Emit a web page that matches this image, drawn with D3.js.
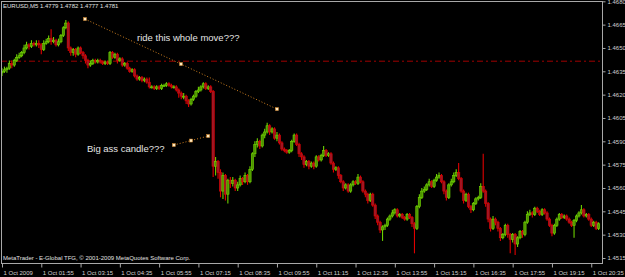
<!DOCTYPE html>
<html><head><meta charset="utf-8">
<script src="https://cdn.jsdelivr.net/npm/d3@7"></script>
<style>
html,body{margin:0;padding:0;background:#000;}
svg{display:block;}
text{font-family:"Liberation Sans",Arial,sans-serif;}
</style></head><body>
<svg id="chart" width="625" height="277"></svg>
<script>
// ---- DATA (EURUSD M5, 1 Oct 2009, bars every 5 minutes from 00:35) ----
const title = "EURUSD,M5  1.4779 1.4782 1.4777 1.4781";
const copyright = "MetaTrader - E-Global TFG, \u00A9 2001-2009 MetaQuotes Software Corp.";
const opens = [
1.4634,1.4635,1.4636,1.4637,1.4640,1.4639,1.4642,1.4644,1.4645,1.4647,
1.4650,1.4652,1.4651,1.4653,1.4652,1.4653,1.4652,1.4649,1.4653,1.4654,
1.4656,1.4654,1.4655,1.4652,1.4654,1.4658,1.4663,1.4666,1.4650,1.4647,
1.4649,1.4646,1.4650,1.4647,1.4645,1.4642,1.4639,1.4640,1.4642,1.4641,
1.4642,1.4641,1.4640,1.4641,1.4640,1.4647,1.4644,1.4646,1.4642,1.4643,
1.4639,1.4640,1.4637,1.4635,1.4636,1.4632,1.4630,1.4631,1.4629,1.4630,
1.4628,1.4625,1.4625,1.4624,1.4625,1.4624,1.4626,1.4626,1.4627,1.4626,
1.4625,1.4625,1.4623,1.4621,1.4619,1.4619,1.4616,1.4614,1.4617,1.4619,
1.4622,1.4623,1.4625,1.4627,1.4624,1.4625,1.4622,1.4574,1.4577,1.4570,
1.4558,1.4568,1.4556,1.4565,1.4563,1.4565,1.4560,1.4562,1.4566,1.4564,
1.4568,1.4564,1.4572,1.4582,1.4588,1.4590,1.4587,1.4594,1.4596,1.4600,
1.4596,1.4598,1.4592,1.4594,1.4589,1.4585,1.4584,1.4583,1.4584,1.4590,
1.4594,1.4588,1.4582,1.4580,1.4575,1.4577,1.4574,1.4576,1.4574,1.4580,
1.4578,1.4581,1.4584,1.4581,1.4582,1.4576,1.4572,1.4573,1.4568,1.4564,
1.4560,1.4562,1.4558,1.4562,1.4564,1.4563,1.4567,1.4564,1.4558,1.4556,
1.4552,1.4556,1.4549,1.4542,1.4538,1.4533,1.4535,1.4536,1.4540,1.4542,
1.4544,1.4546,1.4542,1.4543,1.4541,1.4540,1.4543,1.4541,1.4537,1.4534,
1.4548,1.4554,1.4558,1.4559,1.4562,1.4564,1.4561,1.4565,1.4567,1.4568,
1.4564,1.4558,1.4554,1.4562,1.4564,1.4568,1.4570,1.4566,1.4558,1.4552,
1.4556,1.4548,1.4546,1.4550,1.4553,1.4554,1.4561,1.4558,1.4550,1.4540,
1.4534,1.4540,1.4538,1.4534,1.4528,1.4530,1.4536,1.4530,1.4527,1.4530,
1.4524,1.4528,1.4532,1.4530,1.4538,1.4543,1.4544,1.4543,1.4547,1.4545,
1.4543,1.4546,1.4544,1.4540,1.4536,1.4531,1.4536,1.4540,1.4543,1.4541,
1.4542,1.4540,1.4538,1.4536,1.4539,1.4542,1.4544,1.4546,1.4542,1.4543,
1.4540,1.4536,1.4538,1.4534];
const highs = [
1.4637,1.4638,1.4638,1.4642,1.4642,1.4643,1.4646,1.4647,1.4648,1.4652,
1.4654,1.4653,1.4655,1.4654,1.4655,1.4655,1.4653,1.4655,1.4656,1.4658,
1.4662,1.4657,1.4656,1.4656,1.4659,1.4664,1.4668,1.4667,1.4651,1.4650,
1.4650,1.4651,1.4651,1.4648,1.4646,1.4643,1.4642,1.4643,1.4643,1.4643,
1.4643,1.4642,1.4642,1.4642,1.4648,1.4648,1.4647,1.4647,1.4644,1.4644,
1.4641,1.4641,1.4638,1.4637,1.4637,1.4633,1.4632,1.4632,1.4631,1.4631,
1.4631,1.4626,1.4626,1.4626,1.4626,1.4627,1.4627,1.4628,1.4628,1.4627,
1.4626,1.4626,1.4624,1.4622,1.4621,1.4620,1.4617,1.4618,1.4620,1.4623,
1.4625,1.4626,1.4628,1.4628,1.4626,1.4626,1.4623,1.4580,1.4578,1.4572,
1.4570,1.4569,1.4566,1.4567,1.4567,1.4566,1.4564,1.4568,1.4567,1.4570,
1.4569,1.4574,1.4583,1.4590,1.4592,1.4591,1.4595,1.4598,1.4602,1.4601,
1.4599,1.4599,1.4596,1.4595,1.4590,1.4586,1.4585,1.4585,1.4591,1.4595,
1.4595,1.4589,1.4583,1.4581,1.4578,1.4578,1.4577,1.4577,1.4581,1.4581,
1.4582,1.4587,1.4585,1.4583,1.4583,1.4577,1.4574,1.4574,1.4569,1.4565,
1.4563,1.4563,1.4563,1.4565,1.4565,1.4569,1.4568,1.4565,1.4559,1.4557,
1.4557,1.4557,1.4550,1.4543,1.4539,1.4536,1.4537,1.4541,1.4543,1.4546,
1.4547,1.4547,1.4544,1.4544,1.4542,1.4544,1.4544,1.4542,1.4538,1.4549,
1.4556,1.4560,1.4561,1.4563,1.4566,1.4565,1.4566,1.4569,1.4570,1.4569,
1.4565,1.4559,1.4563,1.4566,1.4570,1.4572,1.4576,1.4567,1.4559,1.4557,
1.4557,1.4549,1.4551,1.4554,1.4555,1.4563,1.4582,1.4559,1.4551,1.4541,
1.4542,1.4541,1.4539,1.4535,1.4531,1.4537,1.4537,1.4531,1.4531,1.4531,
1.4529,1.4533,1.4533,1.4539,1.4545,1.4546,1.4545,1.4548,1.4548,1.4546,
1.4547,1.4547,1.4545,1.4541,1.4537,1.4537,1.4541,1.4544,1.4544,1.4543,
1.4543,1.4541,1.4539,1.4540,1.4543,1.4545,1.4549,1.4547,1.4544,1.4544,
1.4541,1.4539,1.4539,1.4538];
const lows = [
1.4632,1.4634,1.4634,1.4636,1.4637,1.4638,1.4641,1.4643,1.4644,1.4646,
1.4649,1.4649,1.4650,1.4651,1.4651,1.4650,1.4646,1.4648,1.4652,1.4653,
1.4652,1.4653,1.4651,1.4651,1.4653,1.4657,1.4662,1.4648,1.4645,1.4645,
1.4644,1.4645,1.4646,1.4643,1.4640,1.4637,1.4638,1.4639,1.4640,1.4640,
1.4640,1.4639,1.4639,1.4639,1.4639,1.4643,1.4643,1.4640,1.4641,1.4638,
1.4638,1.4636,1.4634,1.4634,1.4631,1.4629,1.4629,1.4628,1.4628,1.4627,
1.4624,1.4624,1.4623,1.4623,1.4623,1.4623,1.4625,1.4625,1.4625,1.4624,
1.4624,1.4622,1.4618,1.4617,1.4617,1.4614,1.4612,1.4613,1.4616,1.4618,
1.4621,1.4622,1.4624,1.4623,1.4623,1.4621,1.4567,1.4568,1.4566,1.4554,
1.4553,1.4552,1.4550,1.4560,1.4561,1.4558,1.4558,1.4561,1.4562,1.4563,
1.4562,1.4563,1.4571,1.4580,1.4586,1.4585,1.4586,1.4592,1.4595,1.4594,
1.4595,1.4591,1.4590,1.4588,1.4584,1.4583,1.4582,1.4582,1.4583,1.4589,
1.4587,1.4580,1.4578,1.4573,1.4574,1.4572,1.4573,1.4572,1.4573,1.4577,
1.4577,1.4580,1.4580,1.4580,1.4575,1.4570,1.4571,1.4566,1.4563,1.4558,
1.4559,1.4557,1.4557,1.4561,1.4562,1.4562,1.4563,1.4557,1.4554,1.4550,
1.4551,1.4548,1.4540,1.4536,1.4531,1.4526,1.4533,1.4535,1.4539,1.4541,
1.4543,1.4541,1.4541,1.4540,1.4539,1.4539,1.4540,1.4535,1.4518,1.4533,
1.4547,1.4553,1.4557,1.4558,1.4561,1.4560,1.4560,1.4564,1.4566,1.4563,
1.4556,1.4552,1.4553,1.4561,1.4563,1.4567,1.4565,1.4557,1.4550,1.4551,
1.4547,1.4544,1.4545,1.4549,1.4552,1.4553,1.4557,1.4548,1.4538,1.4532,
1.4533,1.4536,1.4532,1.4526,1.4527,1.4529,1.4528,1.4518,1.4525,1.4517,
1.4522,1.4527,1.4528,1.4529,1.4537,1.4542,1.4541,1.4542,1.4544,1.4542,
1.4542,1.4543,1.4539,1.4535,1.4529,1.4530,1.4535,1.4539,1.4540,1.4540,
1.4539,1.4537,1.4535,1.4528,1.4538,1.4541,1.4543,1.4541,1.4541,1.4539,
1.4535,1.4535,1.4533,1.4533];
const closes = [
1.4635,1.4636,1.4637,1.4640,1.4639,1.4642,1.4644,1.4645,1.4647,1.4650,
1.4652,1.4651,1.4653,1.4652,1.4653,1.4652,1.4649,1.4653,1.4654,1.4656,
1.4654,1.4655,1.4652,1.4654,1.4658,1.4663,1.4666,1.4650,1.4647,1.4649,
1.4646,1.4650,1.4647,1.4645,1.4642,1.4639,1.4640,1.4642,1.4641,1.4642,
1.4641,1.4640,1.4641,1.4640,1.4647,1.4644,1.4646,1.4642,1.4643,1.4639,
1.4640,1.4637,1.4635,1.4636,1.4632,1.4630,1.4631,1.4629,1.4630,1.4628,
1.4625,1.4625,1.4624,1.4625,1.4624,1.4626,1.4626,1.4627,1.4626,1.4625,
1.4625,1.4623,1.4621,1.4619,1.4619,1.4616,1.4614,1.4617,1.4619,1.4622,
1.4623,1.4625,1.4627,1.4624,1.4625,1.4622,1.4574,1.4577,1.4570,1.4558,
1.4568,1.4556,1.4565,1.4563,1.4565,1.4560,1.4562,1.4566,1.4564,1.4568,
1.4564,1.4572,1.4582,1.4588,1.4590,1.4587,1.4594,1.4596,1.4600,1.4596,
1.4598,1.4592,1.4594,1.4589,1.4585,1.4584,1.4583,1.4584,1.4590,1.4594,
1.4588,1.4582,1.4580,1.4575,1.4577,1.4574,1.4576,1.4574,1.4580,1.4578,
1.4581,1.4584,1.4581,1.4582,1.4576,1.4572,1.4573,1.4568,1.4564,1.4560,
1.4562,1.4558,1.4562,1.4564,1.4563,1.4567,1.4564,1.4558,1.4556,1.4552,
1.4556,1.4549,1.4542,1.4538,1.4533,1.4535,1.4536,1.4540,1.4542,1.4544,
1.4546,1.4542,1.4543,1.4541,1.4540,1.4543,1.4541,1.4537,1.4534,1.4548,
1.4554,1.4558,1.4559,1.4562,1.4564,1.4561,1.4565,1.4567,1.4568,1.4564,
1.4558,1.4554,1.4562,1.4564,1.4568,1.4570,1.4566,1.4558,1.4552,1.4556,
1.4548,1.4546,1.4550,1.4553,1.4554,1.4561,1.4558,1.4550,1.4540,1.4534,
1.4540,1.4538,1.4534,1.4528,1.4530,1.4536,1.4530,1.4527,1.4530,1.4524,
1.4528,1.4532,1.4530,1.4538,1.4543,1.4544,1.4543,1.4547,1.4545,1.4543,
1.4546,1.4544,1.4540,1.4536,1.4531,1.4536,1.4540,1.4543,1.4541,1.4542,
1.4540,1.4538,1.4536,1.4539,1.4542,1.4544,1.4546,1.4542,1.4543,1.4540,
1.4536,1.4538,1.4534,1.4537];
const yTickValues = [1.4680,1.4665,1.4650,1.4635,1.4620,1.4605,1.4590,1.4575,1.4560,1.4545,1.4530,1.4515];
const xTickBars = [0,16,32,48,64,80,96,112,128,144,160,176,192,208,224,240];
const xTickLabels = ["1 Oct 2009","1 Oct 01:55","1 Oct 03:15","1 Oct 04:35","1 Oct 05:55","1 Oct 07:15",
  "1 Oct 08:35","1 Oct 09:55","1 Oct 11:15","1 Oct 12:35","1 Oct 13:55","1 Oct 15:15",
  "1 Oct 16:35","1 Oct 17:55","1 Oct 19:15","1 Oct 20:35"];
const levelLine = 1.46415;
// trend lines anchored at (bar, price); notes anchored at (bar, price)
const trendLines = [
  {b1:33.8, p1:1.46686, b2:112, p2:1.46107},
  {b1:70, p1:1.45876, b2:84, p2:1.45934}
];
const noteTexts = ["ride this whole move???","Big ass candle???"];
const noteBars = [55, 34.6];
const notePrices = [1.46548, 1.45830];

// ---- DRAW ----
const svg = d3.select("#chart");
svg.append("rect").attr("width",625).attr("height",277).attr("fill","#000");
const L=1, R=602, T=1, B=263;
const x = d3.scaleLinear().domain([0, closes.length-1]).range([2, 598.6]);
const y = d3.scaleLinear().domain([1.4515, 1.4680]).range([258, 1.3]);

svg.append("clipPath").attr("id","clip").append("rect")
  .attr("x",L).attr("y",T).attr("width",R-L).attr("height",B-T);
const g = svg.append("g").attr("clip-path","url(#clip)");

// level line (dash-dot)
g.append("line").attr("x1",L).attr("x2",R).attr("y1",y(levelLine)).attr("y2",y(levelLine))
  .attr("stroke","#a00000").attr("stroke-width",1).attr("stroke-dasharray","6,3,2,3");

const bars = d3.range(closes.length).map(i=>({i,o:opens[i],h:highs[i],l:lows[i],c:closes[i]}));
const up = d => d.c >= d.o;
const cg = g.append("g");
cg.selectAll("line.wick").data(bars).join("line").attr("class","wick")
  .attr("x1",d=>x(d.i)).attr("x2",d=>x(d.i))
  .attr("y1",d=>y(d.h)).attr("y2",d=>y(d.l))
  .attr("stroke",d=>up(d)?"#6cd000":"#e00000").attr("stroke-width",1.1);
const bw = 2.3;
cg.selectAll("rect.body").data(bars).join("rect").attr("class","body")
  .attr("x",d=>x(d.i)-bw/2).attr("width",bw)
  .attr("y",d=>y(Math.max(d.o,d.c)))
  .attr("height",d=>Math.max(1,Math.abs(y(d.o)-y(d.c))))
  .attr("fill",d=>up(d)?"#4f9400":"#9a1828")
  .attr("stroke",d=>up(d)?"#72d800":"#e00000").attr("stroke-width",0.6);

// trend lines
trendLines.forEach(t=>{
  const x1=x(t.b1), y1=y(t.p1), x2=x(t.b2), y2=y(t.p2);
  g.append("line").attr("x1",x1).attr("y1",y1).attr("x2",x2).attr("y2",y2)
    .attr("stroke","#d08020").attr("stroke-width",1).attr("stroke-dasharray","1,2");
  const pts=[[x1,y1],[x2,y2],[(x1+x2)/2,(y1+y2)/2]];
  pts.forEach(p=>{
    g.append("rect").attr("x",p[0]-1.5).attr("y",p[1]-1.5).attr("width",3).attr("height",3)
      .attr("fill","#ffe8c0").attr("stroke","#d08020").attr("stroke-width",0.5);
  });
});

// notes
noteTexts.forEach((t,k)=>{
  g.append("text").attr("x",x(noteBars[k])).attr("y",y(notePrices[k]))
    .attr("fill","#e4e4e4").attr("font-size",9.5).text(t);
});

// title + copyright
svg.append("text").attr("x",3).attr("y",8).attr("fill","#e0e0e0").attr("font-size",6).text(title);
svg.append("text").attr("x",3).attr("y",260).attr("fill","#e0e0e0").attr("font-size",6).text(copyright);

// frame
svg.append("rect").attr("x",L+0.5).attr("y",T+0.5).attr("width",R-L).attr("height",B-T)
  .attr("fill","none").attr("stroke","#a8a8a8").attr("stroke-width",1);

// right axis
const yAxis = d3.axisRight(y).tickValues(yTickValues).tickFormat(d3.format(".4f")).tickSize(3).tickPadding(2);
const ya = svg.append("g").attr("transform",`translate(${R+0.5},0)`).call(yAxis);
ya.select(".domain").remove();
ya.selectAll("line").attr("stroke","#a8a8a8");
ya.selectAll("text").attr("fill","#d0d0d0").attr("font-size",6).attr("font-family","Liberation Sans, Arial, sans-serif");

// bottom axis
const xAxis = d3.axisBottom(x).tickValues(xTickBars).tickFormat((d,k)=>xTickLabels[k]).tickSize(4).tickPadding(3);
const xa = svg.append("g").attr("transform",`translate(0,${B+0.5})`).call(xAxis);
xa.select(".domain").remove();
xa.selectAll("line").attr("stroke","#a8a8a8");
xa.selectAll("text").attr("fill","#d0d0d0").attr("font-size",6).attr("text-anchor","start")
  .attr("dx","1").attr("font-family","Liberation Sans, Arial, sans-serif");
</script>
</body></html>
